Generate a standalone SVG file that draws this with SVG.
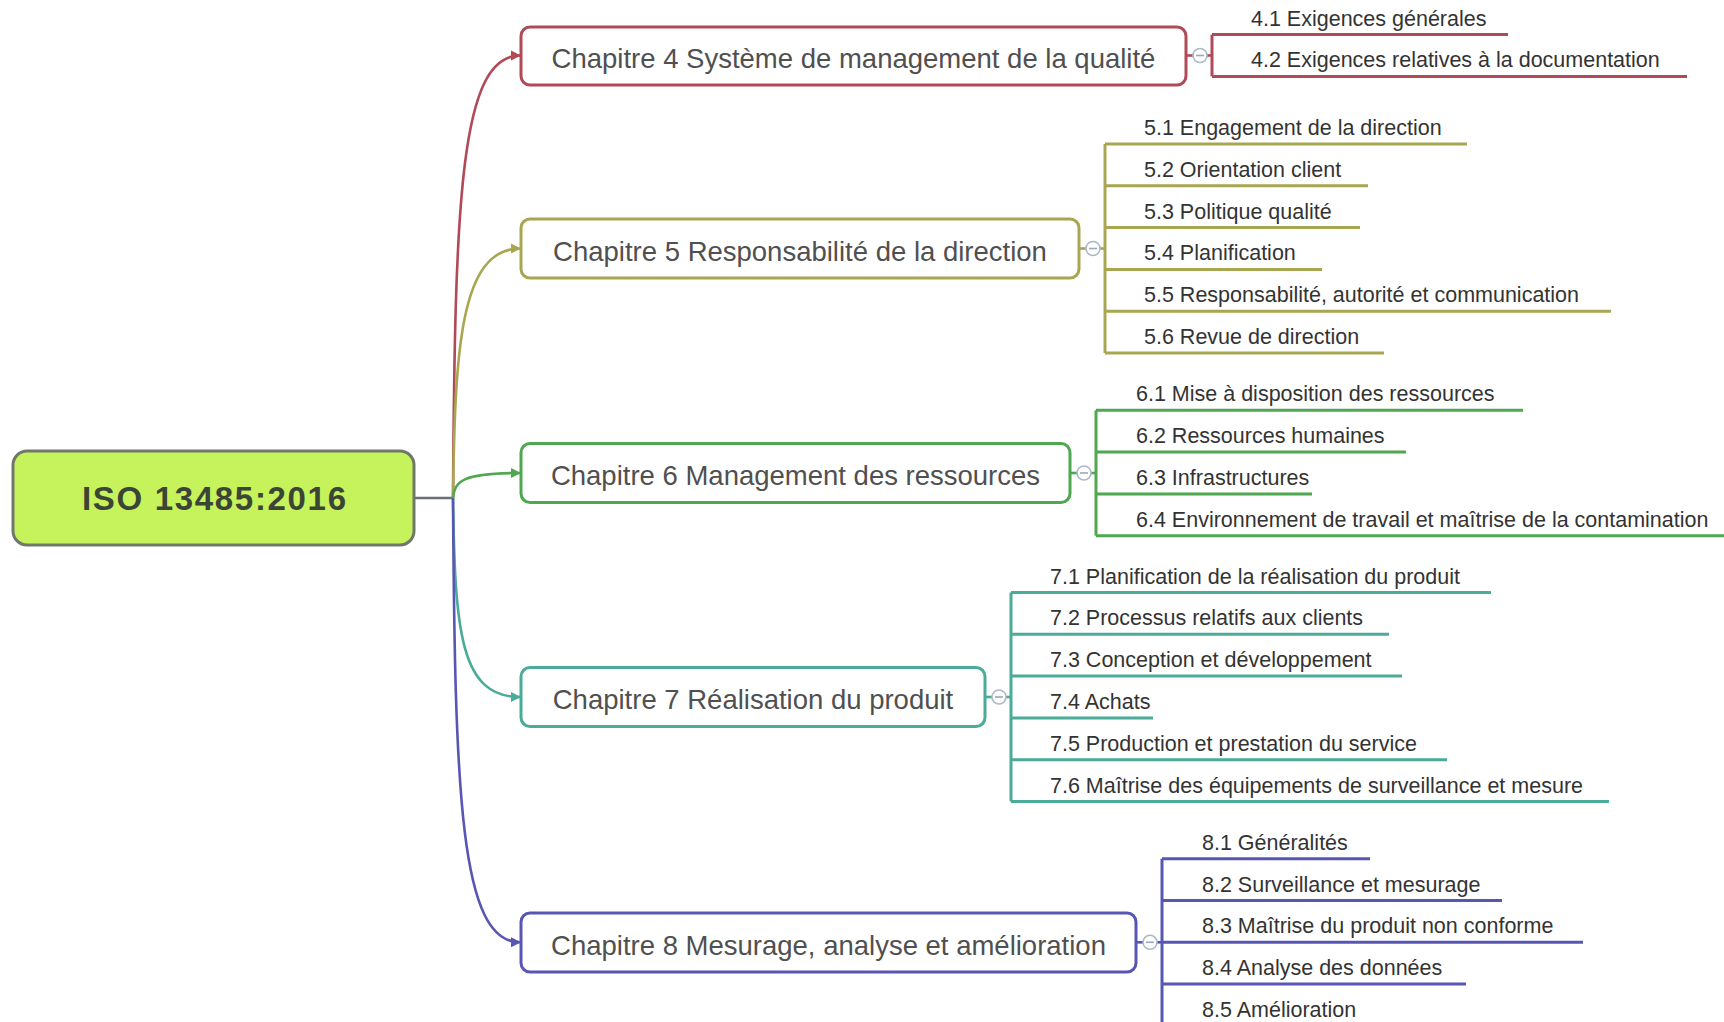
<svg xmlns="http://www.w3.org/2000/svg" width="1724" height="1022" viewBox="0 0 1724 1022">
<style>
.bg{fill:#ffffff}
.root rect{fill:#c6f25c;stroke:#6f786b;stroke-width:3}
.root text{font-family:"Liberation Sans",Arial,sans-serif;font-weight:bold;font-size:33px;fill:#3a4536}
.chap rect{fill:#ffffff;stroke-width:3}
.chap text{font-family:"Liberation Sans",Arial,sans-serif;font-size:27.5px;fill:#505050}
.btn{fill:#ffffff;stroke:#aab8c8;stroke-width:1.6}
.minus{stroke:#9aa8b8;stroke-width:1.6}
.sub text{font-family:"Liberation Sans",Arial,sans-serif;font-size:21.5px;fill:#333333}
.sub line{stroke-width:3}
.conn path,.conn line{fill:none;stroke-width:2.6}
.c4{stroke:#b04a56}.c5{stroke:#a9a652}.c6{stroke:#4fa84f}.c7{stroke:#4aab98}.c8{stroke:#5856b3}
</style>
<defs>
<marker id="a4" viewBox="0 0 10 10" refX="9" refY="5" markerWidth="4" markerHeight="4" orient="auto" markerUnits="strokeWidth"><path d="M0,0 L10,5 L0,10 z" fill="#b04a56"/></marker>
<marker id="a5" viewBox="0 0 10 10" refX="9" refY="5" markerWidth="4" markerHeight="4" orient="auto" markerUnits="strokeWidth"><path d="M0,0 L10,5 L0,10 z" fill="#a9a652"/></marker>
<marker id="a6" viewBox="0 0 10 10" refX="9" refY="5" markerWidth="4" markerHeight="4" orient="auto" markerUnits="strokeWidth"><path d="M0,0 L10,5 L0,10 z" fill="#4fa84f"/></marker>
<marker id="a7" viewBox="0 0 10 10" refX="9" refY="5" markerWidth="4" markerHeight="4" orient="auto" markerUnits="strokeWidth"><path d="M0,0 L10,5 L0,10 z" fill="#4aab98"/></marker>
<marker id="a8" viewBox="0 0 10 10" refX="9" refY="5" markerWidth="4" markerHeight="4" orient="auto" markerUnits="strokeWidth"><path d="M0,0 L10,5 L0,10 z" fill="#5856b3"/></marker>
</defs>
<rect class="bg" x="0" y="0" width="1724" height="1022"/>

<g id="connectors" class="conn">
  <line x1="414" y1="498" x2="453" y2="498" style="stroke:#6c7074"/>
  <path class="c4" d="M453,498 C455,200 460,55.5 520,55.5" marker-end="url(#a4)"/>
  <path class="c5" d="M453,498 C455,350 460,248.5 520,248.5" marker-end="url(#a5)"/>
  <path class="c6" d="M453,498 C455,481 462,473 520,473" marker-end="url(#a6)"/>
  <path class="c7" d="M453,498 C455,631 460,697 520,697" marker-end="url(#a7)"/>
  <path class="c8" d="M453,498 C455,796 460,942.3 520,942.3" marker-end="url(#a8)"/>
  <line class="c4" x1="1186" y1="55.5" x2="1193" y2="55.5"/>
  <line class="c4" x1="1207" y1="55.5" x2="1212" y2="55.5"/>
  <line class="c4" x1="1212" y1="34.6" x2="1212" y2="76.4" style="stroke-width:3"/>
  <line class="c5" x1="1079" y1="248.5" x2="1086" y2="248.5"/>
  <line class="c5" x1="1100" y1="248.5" x2="1105" y2="248.5"/>
  <line class="c5" x1="1105" y1="144" x2="1105" y2="353" style="stroke-width:3"/>
  <line class="c6" x1="1070" y1="473" x2="1077" y2="473"/>
  <line class="c6" x1="1091" y1="473" x2="1096" y2="473"/>
  <line class="c6" x1="1096" y1="410.3" x2="1096" y2="535.7" style="stroke-width:3"/>
  <line class="c7" x1="985" y1="697" x2="992" y2="697"/>
  <line class="c7" x1="1006" y1="697" x2="1011" y2="697"/>
  <line class="c7" x1="1011" y1="592.5" x2="1011" y2="801.5" style="stroke-width:3"/>
  <line class="c8" x1="1136" y1="942.3" x2="1143" y2="942.3"/>
  <line class="c8" x1="1157" y1="942.3" x2="1162" y2="942.3"/>
  <line class="c8" x1="1162" y1="858.7" x2="1162" y2="1025.9" style="stroke-width:3"/>
</g>

<g id="root" class="root">
  <rect x="13" y="451" width="401" height="94" rx="14"/>
  <text x="214" y="510" text-anchor="middle" textLength="264">ISO 13485:2016</text>
</g>

<g id="ch4" class="chap">
  <rect x="521" y="27" width="665" height="58" rx="9" class="c4"/>
  <text x="853.5" y="68" text-anchor="middle">Chapitre 4 Système de management de la qualité</text>
  <circle class="btn" cx="1200" cy="55.5" r="7"/><line class="minus" x1="1196" y1="55.5" x2="1204" y2="55.5"/>
</g>
<g id="ch5" class="chap">
  <rect x="521" y="219" width="558" height="59" rx="9" class="c5"/>
  <text x="800" y="260.8" text-anchor="middle">Chapitre 5 Responsabilité de la direction</text>
  <circle class="btn" cx="1093" cy="248.5" r="7"/><line class="minus" x1="1089" y1="248.5" x2="1097" y2="248.5"/>
</g>
<g id="ch6" class="chap">
  <rect x="521" y="443.5" width="549" height="59" rx="9" class="c6"/>
  <text x="795.5" y="485.3" text-anchor="middle">Chapitre 6 Management des ressources</text>
  <circle class="btn" cx="1084" cy="473" r="7"/><line class="minus" x1="1080" y1="473" x2="1088" y2="473"/>
</g>
<g id="ch7" class="chap">
  <rect x="521" y="667.5" width="464" height="59" rx="9" class="c7"/>
  <text x="753" y="709.3" text-anchor="middle">Chapitre 7 Réalisation du produit</text>
  <circle class="btn" cx="999" cy="697" r="7"/><line class="minus" x1="995" y1="697" x2="1003" y2="697"/>
</g>
<g id="ch8" class="chap">
  <rect x="521" y="913" width="615" height="59" rx="9" class="c8"/>
  <text x="828.5" y="954.8" text-anchor="middle">Chapitre 8 Mesurage, analyse et amélioration</text>
  <circle class="btn" cx="1150" cy="942.3" r="7"/><line class="minus" x1="1146" y1="942.3" x2="1154" y2="942.3"/>
</g>

<g id="s41" class="sub"><text x="1251" y="25.6">4.1 Exigences générales</text><line class="c4" x1="1212" y1="34.6" x2="1508" y2="34.6"/></g>
<g id="s42" class="sub"><text x="1251" y="67.4">4.2 Exigences relatives à la documentation</text><line class="c4" x1="1212" y1="76.4" x2="1687" y2="76.4"/></g>

<g id="s51" class="sub"><text x="1144" y="135">5.1 Engagement de la direction</text><line class="c5" x1="1105" y1="144" x2="1467" y2="144"/></g>
<g id="s52" class="sub"><text x="1144" y="176.8">5.2 Orientation client</text><line class="c5" x1="1105" y1="185.8" x2="1368" y2="185.8"/></g>
<g id="s53" class="sub"><text x="1144" y="218.6">5.3 Politique qualité</text><line class="c5" x1="1105" y1="227.6" x2="1360" y2="227.6"/></g>
<g id="s54" class="sub"><text x="1144" y="260.4">5.4 Planification</text><line class="c5" x1="1105" y1="269.4" x2="1322" y2="269.4"/></g>
<g id="s55" class="sub"><text x="1144" y="302.2">5.5 Responsabilité, autorité et communication</text><line class="c5" x1="1105" y1="311.2" x2="1611" y2="311.2"/></g>
<g id="s56" class="sub"><text x="1144" y="344">5.6 Revue de direction</text><line class="c5" x1="1105" y1="353" x2="1384" y2="353"/></g>

<g id="s61" class="sub"><text x="1136" y="401.3">6.1 Mise à disposition des ressources</text><line class="c6" x1="1096" y1="410.3" x2="1523" y2="410.3"/></g>
<g id="s62" class="sub"><text x="1136" y="443.1">6.2 Ressources humaines</text><line class="c6" x1="1096" y1="452.1" x2="1406" y2="452.1"/></g>
<g id="s63" class="sub"><text x="1136" y="484.9">6.3 Infrastructures</text><line class="c6" x1="1096" y1="493.9" x2="1312" y2="493.9"/></g>
<g id="s64" class="sub"><text x="1136" y="526.7">6.4 Environnement de travail et maîtrise de la contamination</text><line class="c6" x1="1096" y1="535.7" x2="1724" y2="535.7"/></g>

<g id="s71" class="sub"><text x="1050" y="583.5">7.1 Planification de la réalisation du produit</text><line class="c7" x1="1011" y1="592.5" x2="1491" y2="592.5"/></g>
<g id="s72" class="sub"><text x="1050" y="625.3">7.2 Processus relatifs aux clients</text><line class="c7" x1="1011" y1="634.3" x2="1389" y2="634.3"/></g>
<g id="s73" class="sub"><text x="1050" y="667.1">7.3 Conception et développement</text><line class="c7" x1="1011" y1="676.1" x2="1402" y2="676.1"/></g>
<g id="s74" class="sub"><text x="1050" y="708.9">7.4 Achats</text><line class="c7" x1="1011" y1="717.9" x2="1153" y2="717.9"/></g>
<g id="s75" class="sub"><text x="1050" y="750.7">7.5 Production et prestation du service</text><line class="c7" x1="1011" y1="759.7" x2="1447" y2="759.7"/></g>
<g id="s76" class="sub"><text x="1050" y="792.5">7.6 Maîtrise des équipements de surveillance et mesure</text><line class="c7" x1="1011" y1="801.5" x2="1609" y2="801.5"/></g>

<g id="s81" class="sub"><text x="1202" y="849.7">8.1 Généralités</text><line class="c8" x1="1162" y1="858.7" x2="1370" y2="858.7"/></g>
<g id="s82" class="sub"><text x="1202" y="891.5">8.2 Surveillance et mesurage</text><line class="c8" x1="1162" y1="900.5" x2="1502" y2="900.5"/></g>
<g id="s83" class="sub"><text x="1202" y="933.3">8.3 Maîtrise du produit non conforme</text><line class="c8" x1="1162" y1="942.3" x2="1583" y2="942.3"/></g>
<g id="s84" class="sub"><text x="1202" y="975.1">8.4 Analyse des données</text><line class="c8" x1="1162" y1="984.1" x2="1466" y2="984.1"/></g>
<g id="s85" class="sub"><text x="1202" y="1016.9">8.5 Amélioration</text><line class="c8" x1="1162" y1="1025.9" x2="1381" y2="1025.9"/></g>
</svg>
